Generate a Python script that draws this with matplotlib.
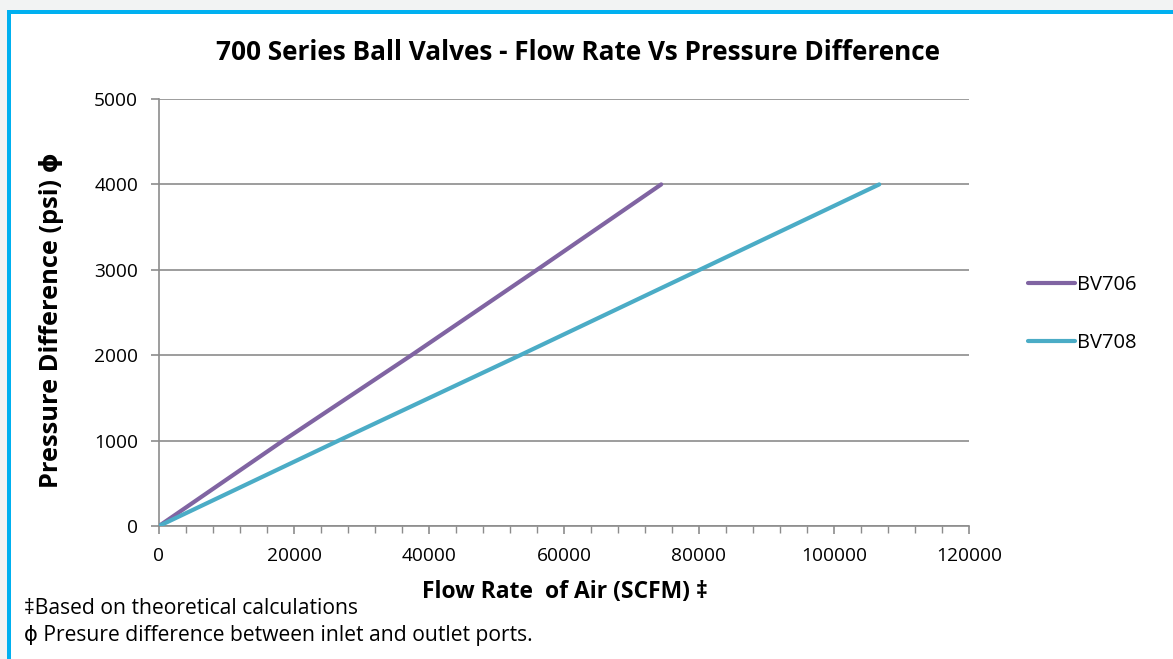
import numpy as np
import matplotlib
matplotlib.use("Agg")
import matplotlib.pyplot as plt
from matplotlib.patches import Rectangle
from matplotlib.ticker import MultipleLocator

# Data
pressure_psi = [0, 1000, 2000, 3000, 4000]
bv706_flow = [0, 18400, 37400, 56000, 74400]
bv708_flow = [0, 26600, 53500, 80100, 106700]
series_names = ['BV706', 'BV708']
series_colors = ['#8064a2', '#4bacc6']

plt.rcParams['font.family'] = ['Open Sans', 'DejaVu Sans']

W, H = 1173, 659
fig = plt.figure(figsize=(W / 100, H / 100), dpi=100)
fig.patch.set_facecolor('white')

# grey page background and cyan frame (top/left edges visible)
fig.patches.append(Rectangle((0, 1 - 10 / H), 1, 10 / H, transform=fig.transFigure,
                             facecolor='#f2f3f3', edgecolor='none', zorder=0))
fig.patches.append(Rectangle((0, 0), 7 / W, 1, transform=fig.transFigure,
                             facecolor='#f2f3f3', edgecolor='none', zorder=0))
fig.patches.append(Rectangle((7 / W, 1 - 14 / H), 1, 4 / H, transform=fig.transFigure,
                             facecolor='#00b0f0', edgecolor='none', zorder=1))
fig.patches.append(Rectangle((7 / W, 0), 4 / W, 1 - 10 / H, transform=fig.transFigure,
                             facecolor='#00b0f0', edgecolor='none', zorder=1))

ax = fig.add_axes([159 / W, 1 - 526 / H, 810 / W, 427 / H])

for flow, name, col in zip([bv706_flow, bv708_flow], series_names, series_colors):
    ax.plot(flow, pressure_psi, color=col, linewidth=3.0, label=name,
            solid_capstyle='round', zorder=3)

ax.set_xlim(0, 120000)
ax.set_ylim(0, 5000)
ax.xaxis.set_major_locator(MultipleLocator(20000))
ax.xaxis.set_minor_locator(MultipleLocator(4000))
ax.yaxis.set_major_locator(MultipleLocator(1000))

ax.grid(axis='y', color='#8c8c8c', linewidth=1.2)
ax.set_axisbelow(True)
for side in ['top', 'right']:
    ax.spines[side].set_visible(False)
for side in ['left', 'bottom']:
    ax.spines[side].set_color('#8c8c8c')
    ax.spines[side].set_linewidth(1.2)

ax.tick_params(axis='both', which='major', labelsize=13.8, color='#8c8c8c',
               width=1.2, length=6, labelcolor='black')
ax.tick_params(axis='y', which='major', pad=9)
ax.tick_params(axis='x', which='major', pad=9)
ax.tick_params(axis='x', which='minor', color='#8c8c8c', width=1.0, length=5)
ax.tick_params(axis='y', which='minor', length=0)

fig.text(578 / W, 1 - 52 / H, '700 Series Ball Valves - Flow Rate Vs Pressure Difference',
         ha='center', va='center', fontsize=18.8, fontweight='bold')
fig.text(52 / W, 1 - 320 / H, 'Pressure Difference (psi) ϕ', rotation=90,
         ha='center', va='center', fontsize=18.3, fontweight='bold')
fig.text(565 / W, 1 - 592 / H, 'Flow Rate  of Air (SCFM) ‡',
         ha='center', va='center', fontsize=16.5, fontweight='bold')
fig.text(24 / W, 1 - 609 / H, '‡Based on theoretical calculations',
         ha='left', va='center', fontsize=15.2)
fig.text(24 / W, 1 - 636 / H, 'ϕ Presure difference between inlet and outlet ports.',
         ha='left', va='center', fontsize=15.2)

leg = ax.legend(loc='center left', bbox_to_anchor=(1.051, 0.497), frameon=False,
                fontsize=14.5, handlelength=2.3, handletextpad=0.1,
                labelspacing=1.9)

fig.savefig('out.png', dpi=100, facecolor='white')
